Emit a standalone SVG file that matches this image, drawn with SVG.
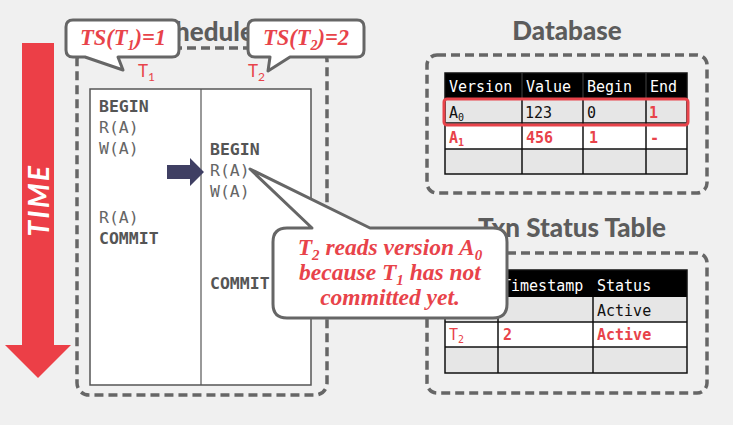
<svg xmlns="http://www.w3.org/2000/svg" width="733" height="425" viewBox="0 0 733 425">
<style>
.dash{fill:none;stroke:#666;stroke-width:3.5;stroke-dasharray:9 5}
.title{font-family:Lato,"Open Sans",sans-serif;font-weight:900;font-size:26px;fill:#5c5c5c}
.mono{font-family:"DejaVu Sans Mono",monospace;font-size:16.5px}
.tm{font-family:"DejaVu Sans Mono",monospace;font-size:15px}
.bold{font-weight:bold}
.red{fill:#e8434a}
.g1{fill:#555}
.g2{fill:#666}
.cell{stroke:#111;stroke-width:1.5}
.callout{fill:#fff;stroke:#666;stroke-width:3;stroke-linejoin:round}
.ser{font-family:"Liberation Serif",serif;font-style:italic;font-weight:bold;fill:#e8434a}
.lbl{font-family:Lato,"Open Sans",sans-serif;font-size:17px;fill:#e8434a}
</style>
<rect width="733" height="425" fill="#f0f0f0"/>

<g id="time-arrow">
<polygon points="22,43 54,43 54,345 71,345 38,378 5,345 22,345" fill="#ec3f47"/>
<text transform="translate(49,200) rotate(-90)" text-anchor="middle" font-family="Lato,'Open Sans',sans-serif" font-weight="bold" font-style="italic" font-size="28" letter-spacing="2.5" fill="#fff">TIME</text>
</g>

<g id="schedule">
<rect class="dash" x="77" y="48" width="250" height="347" rx="12"/>
<text class="title" x="201" y="41" text-anchor="middle">Schedule</text>
<rect x="90" y="89" width="221" height="296" fill="#fff" stroke="#555" stroke-width="1.5"/>
<line x1="201" y1="89" x2="201" y2="385" stroke="#555" stroke-width="1.2"/>
<text class="mono bold g1" x="99" y="112">BEGIN</text>
<text class="mono g2" x="99" y="133">R(A)</text>
<text class="mono g2" x="99" y="154">W(A)</text>
<text class="mono g2" x="99" y="223">R(A)</text>
<text class="mono bold g1" x="99" y="244">COMMIT</text>
<text class="mono bold g1" x="210" y="155">BEGIN</text>
<text class="mono g2" x="210" y="176">R(A)</text>
<text class="mono g2" x="210" y="197">W(A)</text>
<text class="mono bold g1" x="210" y="289">COMMIT</text>
<text class="lbl" x="138" y="77">T<tspan font-size="12" dy="4">1</tspan></text>
<text class="lbl" x="248" y="77">T<tspan font-size="12" dy="4">2</tspan></text>
</g>

<g id="pointer">
<polygon points="167,165 190,165 190,158 204,172 190,186 190,179 167,179" fill="#3f3f63"/>
</g>

<g id="database">
<text class="title" x="567" y="40" text-anchor="middle">Database</text>
<rect class="dash" x="427" y="55" width="280" height="138" rx="10"/>
<rect x="445" y="73" width="242" height="25" fill="#000"/>
<rect x="445" y="98" width="242" height="25" fill="#e6e6e6"/>
<rect x="445" y="123" width="242" height="26" fill="#fff"/>
<rect x="445" y="149" width="242" height="25" fill="#e6e6e6"/>
<g class="cell">
<rect x="445" y="73" width="242" height="101" fill="none"/>
<line x1="445" y1="123" x2="687" y2="123"/>
<line x1="445" y1="149" x2="687" y2="149"/>
<line x1="522" y1="98" x2="522" y2="174"/>
<line x1="583" y1="98" x2="583" y2="174"/>
<line x1="646" y1="98" x2="646" y2="174"/>
</g>
<line x1="522" y1="73" x2="522" y2="98" stroke="#444" stroke-width="1"/>
<line x1="583" y1="73" x2="583" y2="98" stroke="#444" stroke-width="1"/>
<line x1="646" y1="73" x2="646" y2="98" stroke="#444" stroke-width="1"/>
<g class="tm" fill="#fff">
<text x="449" y="92">Version</text>
<text x="526" y="92">Value</text>
<text x="587" y="92">Begin</text>
<text x="650" y="92">End</text>
</g>
<g class="tm">
<text x="449" y="118" fill="#111">A<tspan font-size="10" dy="3">0</tspan></text>
<text x="525" y="118" fill="#111">123</text>
<text x="587" y="118" fill="#111">0</text>
<text x="649" y="118" class="red bold">1</text>
<text x="449" y="143" class="red bold">A<tspan font-size="10" dy="3">1</tspan></text>
<text x="526" y="143" class="red bold">456</text>
<text x="589" y="143" class="red bold">1</text>
<text x="650" y="143" class="red bold">-</text>
</g>
<rect x="444" y="99" width="244" height="26" rx="3" fill="none" stroke="#e8434a" stroke-width="3"/>
</g>

<g id="txn-status">
<text class="title" x="572" y="237" text-anchor="middle">Txn Status Table</text>
<rect class="dash" x="427" y="253" width="280" height="140" rx="10"/>
<rect x="445" y="270" width="242" height="27" fill="#000"/>
<rect x="445" y="297" width="242" height="25" fill="#e6e6e6"/>
<rect x="445" y="322" width="242" height="25" fill="#fff"/>
<rect x="445" y="347" width="242" height="26" fill="#e6e6e6"/>
<g class="cell">
<rect x="445" y="270" width="242" height="103" fill="none"/>
<line x1="445" y1="322" x2="687" y2="322"/>
<line x1="445" y1="347" x2="687" y2="347"/>
<line x1="498" y1="297" x2="498" y2="373"/>
<line x1="593" y1="297" x2="593" y2="373"/>
</g>
<g class="tm">
<text x="502" y="291" fill="#fff">Timestamp</text>
<text x="597" y="291" fill="#fff">Status</text>
<text x="597" y="316" fill="#111">Active</text>
<text x="449" y="340" class="red">T<tspan font-size="10" dy="3">2</tspan></text>
<text x="503" y="340" class="red bold">2</text>
<text x="597" y="340" class="red bold">Active</text>
</g>
</g>

<g id="ts-t1">
<path class="callout" d="M73,20 L172,20 Q179,20 179,27 L179,50 Q179,57 172,57 L118,57 L123,70 L85,57 L73,57 Q66,57 66,50 L66,27 Q66,20 73,20 Z"/>
<text class="ser" x="123" y="45" font-size="22.5" text-anchor="middle">TS(T<tspan font-size="14" dy="5">1</tspan><tspan dy="-5">)=1</tspan></text>
</g>

<g id="ts-t2">
<path class="callout" d="M255,20 L357,20 Q364,20 364,27 L364,50 Q364,57 357,57 L290,57 L268,71 L270,57 L255,57 Q248,57 248,50 L248,27 Q248,20 255,20 Z"/>
<text class="ser" x="306" y="45" font-size="22.5" text-anchor="middle">TS(T<tspan font-size="14" dy="5">2</tspan><tspan dy="-5">)=2</tspan></text>
</g>

<g id="note">
<path class="callout" d="M287,228 L312,228 L250,169 L370,228 L493,228 Q507,228 507,242 L507,304 Q507,318 493,318 L287,318 Q273,318 273,304 L273,242 Q273,228 287,228 Z"/>
<g class="ser" font-size="23.5" text-anchor="middle">
<text x="390" y="255">T<tspan font-size="15" dy="5">2</tspan><tspan dy="-5"> reads version A</tspan><tspan font-size="15" dy="5">0</tspan></text>
<text x="390" y="280">because T<tspan font-size="15" dy="5">1</tspan><tspan dy="-5"> has not</tspan></text>
<text x="390" y="305">committed yet.</text>
</g>
</g>
</svg>
